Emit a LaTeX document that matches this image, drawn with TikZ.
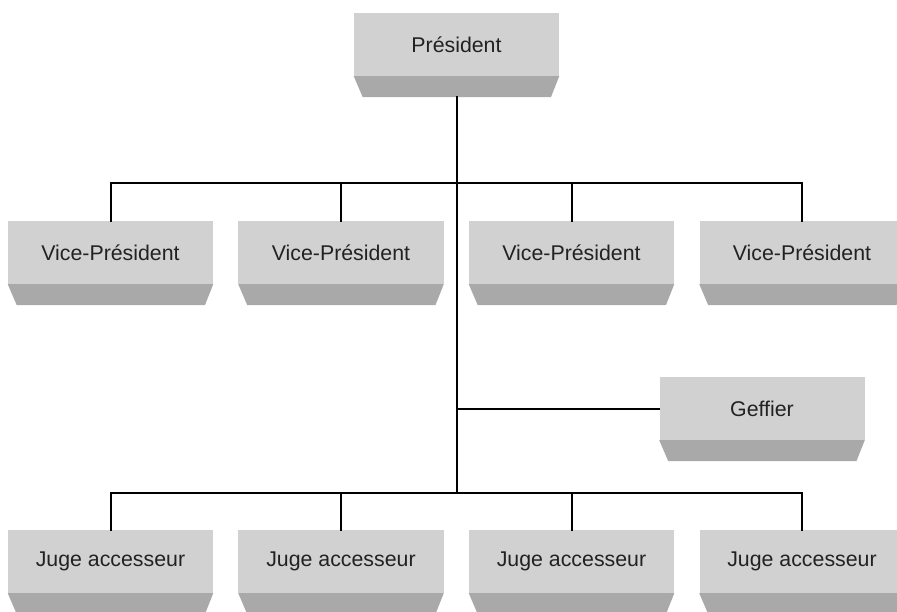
\documentclass[tikz,border=0pt]{standalone}
\usepackage{fontspec}
\setmainfont{Liberation Sans}
\definecolor{boxface}{HTML}{D1D1D1}
\definecolor{boxband}{HTML}{A9A9A9}
\definecolor{boxtext}{HTML}{222222}
\tikzset{
  orgbox/.style={rectangle, fill=boxface, inner sep=0pt, minimum width=6.15cm,
    minimum height=1.89cm, text=boxtext, font=\fontsize{18.2}{22}\selectfont},
  conn/.style={line width=0.6mm, black}
}
% box with its darker bevel band underneath
\newcommand{\orgbox}[3]{%
  \node[orgbox] (#1) at (#2) {#3};
  \fill[boxband] (#1.south west) -- (#1.south east)
    -- ([shift={(-0.25cm,-0.63cm)}]#1.south east)
    -- ([shift={(0.27cm,-0.63cm)}]#1.south west) -- cycle;
  \coordinate (#1-b) at ([yshift=-0.63cm]#1.south);
}
\begin{document}
\begin{tikzpicture}[x=0.03cm,y=-0.03cm,line cap=rect,line join=miter]
	\useasboundingbox (0,0) rectangle (897,611);
	% boxes
	\orgbox{pres}{456.5,44.5}{Président}
	\orgbox{vp1}{110.5,252.5}{Vice-Président}
	\orgbox{vp2}{341,252.5}{Vice-Président}
	\orgbox{vp3}{571.5,252.5}{Vice-Président}
	\orgbox{vp4}{802,252.5}{Vice-Président}
	\orgbox{gef}{762,408.5}{Geffier}
	\orgbox{ju1}{110.5,561.5}{Juge accesseur}
	\orgbox{ju2}{341,561.5}{Juge accesseur}
	\orgbox{ju3}{571.5,561.5}{Juge accesseur}
	\orgbox{ju4}{802,561.5}{Juge accesseur}
	% buses
	\coordinate (vpbus) at (456.5,183);
	\coordinate (jubus) at (456.5,493);
	% connectors
	\draw[conn] (pres-b) -- (jubus);
	\draw[conn] (vp1.north) |- (vpbus) -| (vp4.north);
	\draw[conn] (vp2.north) -- (vp2.north |- vpbus);
	\draw[conn] (vp3.north) -- (vp3.north |- vpbus);
	\draw[conn] (gef.west) -- (gef.west -| jubus);
	\draw[conn] (ju1.north) |- (jubus) -| (ju4.north);
	\draw[conn] (ju2.north) -- (ju2.north |- jubus);
	\draw[conn] (ju3.north) -- (ju3.north |- jubus);
\end{tikzpicture}
\end{document}
